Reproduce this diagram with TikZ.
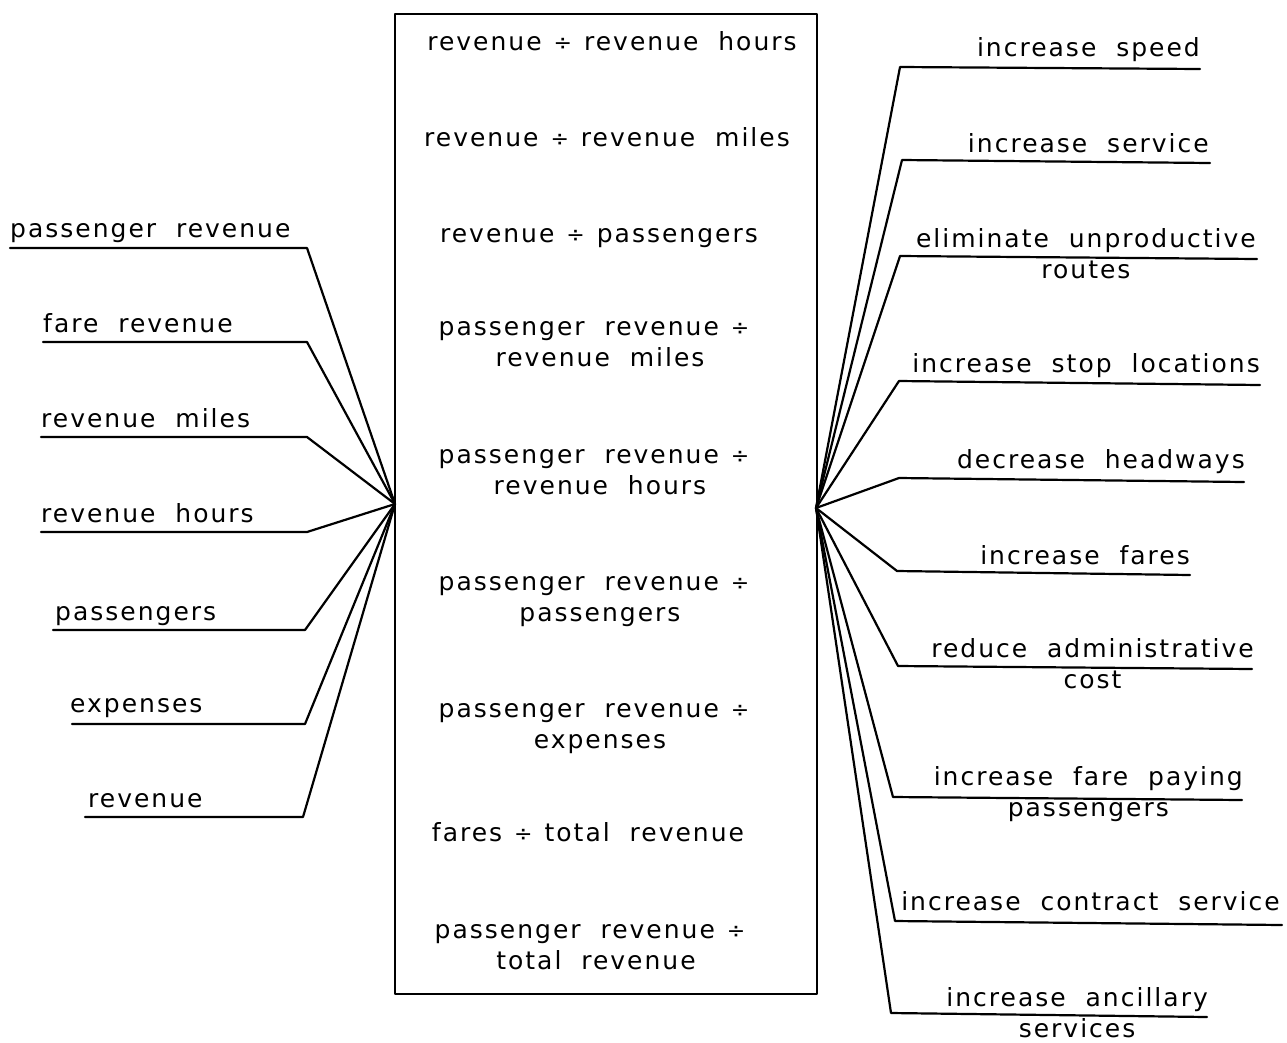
\documentclass[tikz,border=0pt]{standalone}
\usepackage{fontspec}
\setmainfont{DejaVu Sans}[LetterSpace=8, WordSpace=2.0]
\newcommand\dvd{\kern12pt{\fontsize{22}{22}\selectfont ÷}\kern12pt}
\begin{document}
\begin{tikzpicture}[x=1pt, y=-1pt,
  lbl/.style={inner sep=0pt, font=\fontsize{25}{31}\selectfont},
  ln/.style={line width=2.2pt, line join=round, line cap=round}]
\useasboundingbox (0,0) rectangle (1287,1042);
% central box
\node[draw, ln, anchor=north west, inner sep=0pt, minimum width=422pt, minimum height=980pt] (box) at (394,13) {};
\coordinate (hl) at (395,504);
\coordinate (hr) at (816,508);
% centre texts (multi-line nodes: base = baseline of last line)
\node[lbl, anchor=base] (m1) at (612,50) {revenue\dvd revenue hours};
\node[lbl, anchor=base] (m2) at (607,146) {revenue\dvd revenue miles};
\node[lbl, anchor=base] (m3) at (599,242) {revenue\dvd passengers};
\node[lbl, anchor=base, align=center] (m4) at (600,366) {passenger revenue\dvd\\revenue miles};
\node[lbl, anchor=base, align=center] (m5) at (600,494) {passenger revenue\dvd\\revenue hours};
\node[lbl, anchor=base, align=center] (m6) at (600,621) {passenger revenue\dvd\\passengers};
\node[lbl, anchor=base, align=center] (m7) at (600,748) {passenger revenue\dvd\\expenses};
\node[lbl, anchor=base] (m8) at (588,841) {fares\dvd total revenue};
\node[lbl, anchor=base, align=center] (m9) at (596,969) {passenger revenue\dvd\\total revenue};
% left labels
\node[lbl, anchor=base west] (L1) at (10,237) {passenger revenue};
\node[lbl, anchor=base west] (L2) at (43,332) {fare revenue};
\node[lbl, anchor=base west] (L3) at (41,427) {revenue miles};
\node[lbl, anchor=base west] (L4) at (41,522) {revenue hours};
\node[lbl, anchor=base west] (L5) at (55,620) {passengers};
\node[lbl, anchor=base west] (L6) at (70,712) {expenses};
\node[lbl, anchor=base west] (L7) at (88,807) {revenue};
\coordinate (L1a) at (10,248);  \coordinate (L1b) at (307,248);
\coordinate (L2a) at (43,342);  \coordinate (L2b) at (307,342);
\coordinate (L3a) at (41,437);  \coordinate (L3b) at (307,437);
\coordinate (L4a) at (41,532);  \coordinate (L4b) at (307,532);
\coordinate (L5a) at (53,630);  \coordinate (L5b) at (305,630);
\coordinate (L6a) at (72,724);  \coordinate (L6b) at (305,724);
\coordinate (L7a) at (85,817);  \coordinate (L7b) at (303,817);
\foreach \i in {1,...,7}{\draw[ln] (L\i a) -- (L\i b) -- (hl);}
% right labels
\node[lbl, anchor=base east] (R1) at (1200,56) {increase speed};
\node[lbl, anchor=base east] (R2) at (1209,152) {increase service};
\node[lbl, anchor=base east, align=center] (R3) at (1256,278) {eliminate unproductive\\routes};
\node[lbl, anchor=base east] (R4) at (1260,372) {increase stop locations};
\node[lbl, anchor=base east] (R5) at (1245,468) {decrease headways};
\node[lbl, anchor=base east] (R6) at (1190,564) {increase fares};
\node[lbl, anchor=base east, align=center] (R7) at (1254,688) {reduce administrative\\cost};
\node[lbl, anchor=base east, align=center] (R8) at (1243,816) {increase fare paying\\passengers};
\node[lbl, anchor=base east] (R9) at (1280,910) {increase contract service};
\node[lbl, anchor=base east, align=center] (R10) at (1208,1037) {increase ancillary\\services};
\coordinate (R1a) at (900,67);   \coordinate (R1b) at (1200,69);
\coordinate (R2a) at (902,160);  \coordinate (R2b) at (1210,163);
\coordinate (R3a) at (900,256);  \coordinate (R3b) at (1257,259);
\coordinate (R4a) at (899,381);  \coordinate (R4b) at (1260,385);
\coordinate (R5a) at (899,478);  \coordinate (R5b) at (1244,482);
\coordinate (R6a) at (897,571);  \coordinate (R6b) at (1190,575);
\coordinate (R7a) at (898,666);  \coordinate (R7b) at (1252,669);
\coordinate (R8a) at (893,797);  \coordinate (R8b) at (1242,800);
\coordinate (R9a) at (895,921);  \coordinate (R9b) at (1282,925);
\coordinate (R10a) at (891,1013); \coordinate (R10b) at (1207,1017);
\foreach \i in {1,...,10}{\draw[ln] (hr) -- (R\i a) -- (R\i b);}
\end{tikzpicture}
\end{document}
